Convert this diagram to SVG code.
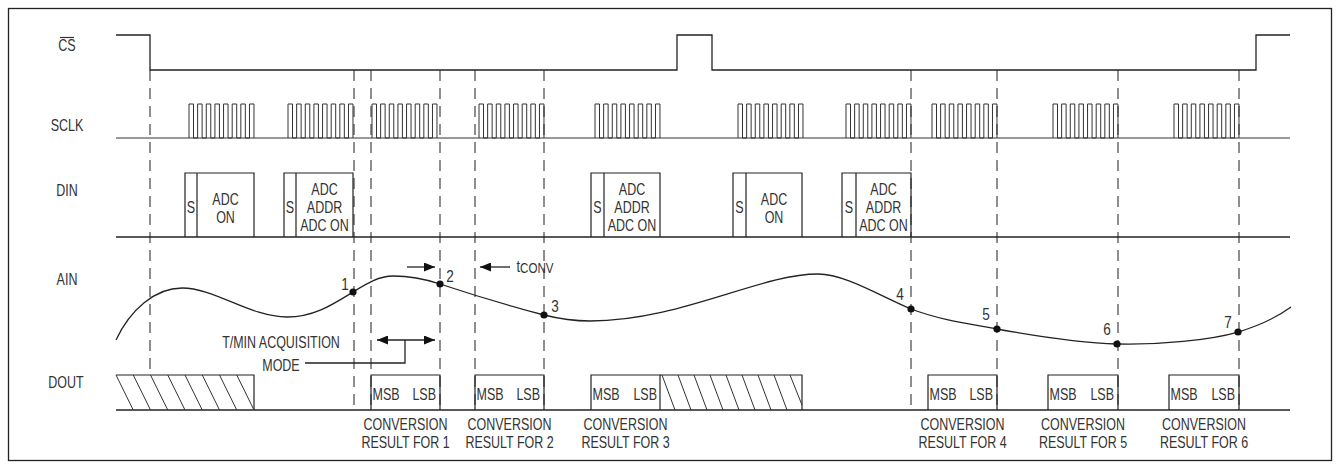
<svg xmlns="http://www.w3.org/2000/svg" xmlns:xlink="http://www.w3.org/1999/xlink" width="1340" height="470" viewBox="0 0 1340 470">
<style>
.ln{fill:none;stroke:#222;stroke-width:1.3}
.th{fill:none;stroke:#333;stroke-width:1}
.dash{fill:none;stroke:#444;stroke-width:1.2;stroke-dasharray:11 7}
.box{fill:none;stroke:#222;stroke-width:1.2}
text{font-family:"Liberation Sans",Arial,sans-serif;font-size:16px;fill:#333}
.m{text-anchor:middle}
.e{text-anchor:end}
.dot{fill:#111}
</style>
<defs>
<path id="burst" d="M0,138 V104 h4.5 V138 h4.14 V104 h4.5 V138 h4.14 V104 h4.5 V138 h4.14 V104 h4.5 V138 h4.14 V104 h4.5 V138 h4.14 V104 h4.5 V138 h4.14 V104 h4.5 V138 h4.14 V104 h4.5 V138"/>
<marker id="ah" markerUnits="userSpaceOnUse" markerWidth="11" markerHeight="9" refX="11" refY="4.5" orient="auto-start-reverse" viewBox="0 0 11 9">
<path d="M0,0 L11,4.5 L0,9 z" fill="#111"/>
</marker>
</defs>
<rect x="8.5" y="8.5" width="1323" height="452" fill="#fff" stroke="#222" stroke-width="1.3"/>

<g id="labels">
<text class="m" transform="translate(67,51) scale(.78,1)">CS</text>
<line x1="60" y1="37.5" x2="74" y2="37.5" stroke="#333" stroke-width="1.2"/>
<text class="m" transform="translate(67,131) scale(.78,1)">SCLK</text>
<text class="m" transform="translate(67,196) scale(.78,1)">DIN</text>
<text class="m" transform="translate(67,285) scale(.78,1)">AIN</text>
<text class="m" transform="translate(66,388) scale(.78,1)">DOUT</text>
</g>

<g id="connectors">
<line class="dash" x1="150" y1="70" x2="150" y2="375"/>
<line class="dash" x1="354" y1="70" x2="354" y2="410"/>
<line class="dash" x1="371" y1="70" x2="371" y2="410"/>
<line class="dash" x1="440" y1="70" x2="440" y2="410"/>
<line class="dash" x1="475" y1="70" x2="475" y2="410"/>
<line class="dash" x1="544" y1="70" x2="544" y2="410"/>
<line class="dash" x1="911" y1="70" x2="911" y2="410"/>
<line class="dash" x1="997" y1="70" x2="997" y2="410"/>
<line class="dash" x1="1118" y1="70" x2="1118" y2="410"/>
<line class="dash" x1="1239" y1="70" x2="1239" y2="410"/>
<line class="ln" x1="407" y1="267" x2="435" y2="267" marker-end="url(#ah)"/>
<line class="ln" x1="510" y1="267" x2="480" y2="267" marker-end="url(#ah)"/>
<line class="ln" x1="377" y1="340" x2="435" y2="340" marker-start="url(#ah)" marker-end="url(#ah)"/>
<polyline class="ln" points="305,363 405,363 405,340"/>
</g>

<g id="cs">
<path class="ln" d="M116,35 H150 V70 H677 V35 H712 V70 H1256 V35 H1290"/>
</g>

<g id="sclk">
<line class="th" x1="116" y1="138" x2="1290" y2="138"/>
<use xlink:href="#burst" class="th" x="189"/>
<use xlink:href="#burst" class="th" x="288"/>
<use xlink:href="#burst" class="th" x="372"/>
<use xlink:href="#burst" class="th" x="479"/>
<use xlink:href="#burst" class="th" x="595"/>
<use xlink:href="#burst" class="th" x="738"/>
<use xlink:href="#burst" class="th" x="846"/>
<use xlink:href="#burst" class="th" x="932"/>
<use xlink:href="#burst" class="th" x="1053"/>
<use xlink:href="#burst" class="th" x="1174"/>
</g>

<g id="din">
<line class="ln" x1="116" y1="237" x2="1290" y2="237"/>
<g id="din1">
<path class="box" d="M185,237 V173 H254 V237 M197,173 V237"/>
<text class="m" transform="translate(191,213) scale(.78,1)">S</text>
<text class="m" transform="translate(225.5,205) scale(.78,1)">ADC</text>
<text class="m" transform="translate(225.5,223) scale(.78,1)">ON</text>
</g>
<g id="din2">
<path class="box" d="M284,237 V173 H353 V237 M296,173 V237"/>
<text class="m" transform="translate(290,213) scale(.78,1)">S</text>
<text class="m" transform="translate(324.5,195) scale(.78,1)">ADC</text>
<text class="m" transform="translate(324.5,213) scale(.78,1)">ADDR</text>
<text class="m" transform="translate(324.5,231) scale(.78,1)">ADC ON</text>
</g>
<g id="din3">
<path class="box" d="M591,237 V173 H660 V237 M604,173 V237"/>
<text class="m" transform="translate(597.5,213) scale(.78,1)">S</text>
<text class="m" transform="translate(632,195) scale(.78,1)">ADC</text>
<text class="m" transform="translate(632,213) scale(.78,1)">ADDR</text>
<text class="m" transform="translate(632,231) scale(.78,1)">ADC ON</text>
</g>
<g id="din4">
<path class="box" d="M733,237 V173 H802 V237 M746,173 V237"/>
<text class="m" transform="translate(739.5,213) scale(.78,1)">S</text>
<text class="m" transform="translate(774,205) scale(.78,1)">ADC</text>
<text class="m" transform="translate(774,223) scale(.78,1)">ON</text>
</g>
<g id="din5">
<path class="box" d="M842,237 V173 H911 V237 M856,173 V237"/>
<text class="m" transform="translate(849,213) scale(.78,1)">S</text>
<text class="m" transform="translate(883.5,195) scale(.78,1)">ADC</text>
<text class="m" transform="translate(883.5,213) scale(.78,1)">ADDR</text>
<text class="m" transform="translate(883.5,231) scale(.78,1)">ADC ON</text>
</g>
</g>

<g id="ain">
<path fill="none" stroke="#222" stroke-width="1.3" d="M116,340 C130,310 155,288 182,288 C215,288 250,317 287,317 C315,317 335,303 353,292 C365,284.7 378,276 393,276 C410,276 425,279 440,284 C470,294 510,306 544,315 C560,319 575,321 590,321 C680,321 760,274 818,274 C845,274 880,296 911,309 C940,320 970,324 997,329 C1030,335 1080,343 1117,344 C1160,345 1210,340 1238,332 C1258,326 1276,318 1291,307"/>
<circle class="dot" cx="353" cy="292" r="3.6"/>
<circle class="dot" cx="440" cy="284" r="3.6"/>
<circle class="dot" cx="544" cy="315" r="3.6"/>
<circle class="dot" cx="911" cy="309" r="3.6"/>
<circle class="dot" cx="997" cy="329" r="3.6"/>
<circle class="dot" cx="1117" cy="344" r="3.6"/>
<circle class="dot" cx="1238" cy="332" r="3.6"/>
<text class="m" transform="translate(345,290) scale(.85,1)">1</text>
<text class="m" transform="translate(450,282) scale(.85,1)">2</text>
<text class="m" transform="translate(555,312) scale(.85,1)">3</text>
<text class="m" transform="translate(900,300) scale(.85,1)">4</text>
<text class="m" transform="translate(986,320) scale(.85,1)">5</text>
<text class="m" transform="translate(1107,335) scale(.85,1)">6</text>
<text class="m" transform="translate(1228,328) scale(.85,1)">7</text>
<text transform="translate(516.5,272) scale(.8,1)">t<tspan font-size="14.5" dy="1">CONV</tspan></text>
<text class="m" transform="translate(281,348) scale(.78,1)">T/MIN ACQUISITION</text>
<text class="m" transform="translate(281,371) scale(.78,1)">MODE</text>
</g>

<g id="dout">
<line class="ln" x1="116" y1="410" x2="1290" y2="410"/>
<g id="hatch1">
<path class="box" d="M116,375 H254 V410"/>
<path class="th" d="M116,375 L133.25,410 M133.25,375 L150.5,410 M150.5,375 L167.75,410 M167.75,375 L185,410 M185,375 L202.25,410 M202.25,375 L219.5,410 M219.5,375 L236.75,410 M236.75,375 L254,410"/>
</g>
<g id="r1">
<path class="box" d="M371,410 V375 H440 V410"/>
<text transform="translate(372.5,400) scale(.78,1)">MSB</text>
<text class="e" transform="translate(436,400) scale(.78,1)">LSB</text>
<text class="m" transform="translate(405.5,430) scale(.78,1)">CONVERSION</text>
<text class="m" transform="translate(405.5,448) scale(.78,1)">RESULT FOR 1</text>
</g>
<g id="r2">
<path class="box" d="M475,410 V375 H544 V410"/>
<text transform="translate(476.5,400) scale(.78,1)">MSB</text>
<text class="e" transform="translate(540,400) scale(.78,1)">LSB</text>
<text class="m" transform="translate(509.5,430) scale(.78,1)">CONVERSION</text>
<text class="m" transform="translate(509.5,448) scale(.78,1)">RESULT FOR 2</text>
</g>
<g id="r3">
<path class="box" d="M591,410 V375 H660 V410"/>
<text transform="translate(592.5,400) scale(.78,1)">MSB</text>
<text class="e" transform="translate(657,400) scale(.78,1)">LSB</text>
<text class="m" transform="translate(625.5,430) scale(.78,1)">CONVERSION</text>
<text class="m" transform="translate(625.5,448) scale(.78,1)">RESULT FOR 3</text>
</g>
<g id="hatch2">
<path class="box" d="M660,375 H802 V410"/>
<path class="th" d="M662,375 L675,410 M678,375 L691,410 M694,375 L707,410 M710,375 L723,410 M726,375 L739,410 M742,375 L755,410 M758,375 L771,410 M774,375 L787,410 M790,375 L802,405"/>
</g>
<g id="r4">
<path class="box" d="M928,410 V375 H997 V410"/>
<text transform="translate(929.5,400) scale(.78,1)">MSB</text>
<text class="e" transform="translate(993,400) scale(.78,1)">LSB</text>
<text class="m" transform="translate(962.5,430) scale(.78,1)">CONVERSION</text>
<text class="m" transform="translate(962.5,448) scale(.78,1)">RESULT FOR 4</text>
</g>
<g id="r5">
<path class="box" d="M1048,410 V375 H1118 V410"/>
<text transform="translate(1049.5,400) scale(.78,1)">MSB</text>
<text class="e" transform="translate(1114,400) scale(.78,1)">LSB</text>
<text class="m" transform="translate(1083,430) scale(.78,1)">CONVERSION</text>
<text class="m" transform="translate(1083,448) scale(.78,1)">RESULT FOR 5</text>
</g>
<g id="r6">
<path class="box" d="M1169,410 V375 H1239 V410"/>
<text transform="translate(1170.5,400) scale(.78,1)">MSB</text>
<text class="e" transform="translate(1235,400) scale(.78,1)">LSB</text>
<text class="m" transform="translate(1204,430) scale(.78,1)">CONVERSION</text>
<text class="m" transform="translate(1204,448) scale(.78,1)">RESULT FOR 6</text>
</g>
</g>
</svg>
